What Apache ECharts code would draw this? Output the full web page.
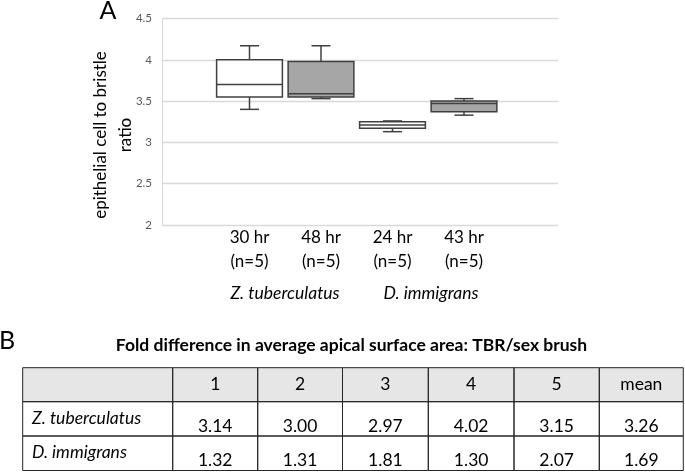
<!DOCTYPE html>
<html><head><meta charset="utf-8">
<script src="https://cdn.jsdelivr.net/npm/echarts@6/dist/echarts.min.js"></script>
<style>html,body{margin:0;padding:0;background:#fff}#c{width:685px;height:472px}</style>
</head><body><div id="c"></div>
<script>
// ---- data ----
const categories = ['30 hr\n(n=5)', '48 hr\n(n=5)', '24 hr\n(n=5)', '43 hr\n(n=5)'];
const boxMin    = [3.40, 3.53, 3.13, 3.33];
const boxQ1     = [3.55, 3.55, 3.17, 3.37];
const boxMedian = [3.70, 3.59, 3.21, 3.47];
const boxQ3     = [4.00, 3.98, 3.25, 3.50];
const boxMax    = [4.17, 4.17, 3.26, 3.53];
const boxFill   = ['#ffffff', '#a6a6a6', '#ffffff', '#a6a6a6'];
const speciesGroups = ['Z. tuberculatus', 'D. immigrans'];
const yTicks = { min: 2, max: 4.5, interval: 0.5 };

const tableTitle = 'Fold difference in average apical surface area: TBR/sex brush';
const tableHeader = ['', '1', '2', '3', '4', '5', 'mean'];
const tableRowLabels = ['Z. tuberculatus', 'D. immigrans'];
const rowZ = ['3.14', '3.00', '2.97', '4.02', '3.15', '3.26'];
const rowD = ['1.32', '1.31', '1.81', '1.30', '2.07', '1.69'];

// ---- build ----
const FONT = 'Lato, "Open Sans", sans-serif';
const boxData = categories.map((c, i) => [i, boxMin[i], boxQ1[i], boxMedian[i], boxQ3[i], boxMax[i]]);

const chart = echarts.init(document.getElementById('c'), null, { renderer: 'canvas' });

// table graphics
const colX = [22.7, 172.7, 257.7, 342.5, 428.3, 514, 599.3, 683.3];
const rowY = [367.7, 401.7, 436, 470.5];
const tableGraphics = [];
tableGraphics.push({ type: 'rect', shape: { x: colX[0], y: rowY[0], width: colX[7] - colX[0], height: rowY[1] - rowY[0] }, style: { fill: '#e7e6e6', stroke: null } });
for (let r = 0; r < 3; r++) {
  for (let c = 0; c < 7; c++) {
    tableGraphics.push({ type: 'rect', shape: { x: colX[c], y: rowY[r], width: colX[c + 1] - colX[c], height: rowY[r + 1] - rowY[r] }, style: { fill: null, stroke: '#262626', lineWidth: 1 } });
  }
}
tableHeader.forEach((t, c) => {
  if (!t) return;
  tableGraphics.push({ type: 'text', x: (colX[c] + colX[c + 1]) / 2, y: 384, style: { text: t, font: '17.5px ' + FONT, fill: '#000', align: 'center', verticalAlign: 'middle' } });
});
[rowZ, rowD].forEach((row, r) => {
  const top = rowY[r + 1];
  tableGraphics.push({ type: 'text', x: 32, y: top + 16.5, style: { text: tableRowLabels[r], font: 'italic 17.5px ' + FONT, fill: '#000', align: 'left', verticalAlign: 'middle' } });
  row.forEach((v, c) => {
    tableGraphics.push({ type: 'text', x: (colX[c + 1] + colX[c + 2]) / 2, y: top + 24.5, style: { text: v, font: '17.5px ' + FONT, fill: '#000', align: 'center', verticalAlign: 'middle' } });
  });
});

chart.setOption({
  animation: false,
  backgroundColor: '#fff',
  grid: [
    { left: 162, right: 127, top: 18.5, bottom: 247, containLabel: false },
    { left: 213.75, width: 286, top: 18.5, bottom: 247, containLabel: false }
  ],
  xAxis: [
    { gridIndex: 0, type: 'value', min: 0, max: 1, show: false },
    { gridIndex: 1, type: 'category', data: categories,
      axisLine: { show: false }, axisTick: { show: false }, splitLine: { show: false },
      axisLabel: { color: '#000', fontSize: 17, fontFamily: FONT, lineHeight: 24, margin: 1 } }
  ],
  yAxis: [
    { gridIndex: 0, type: 'value', min: yTicks.min, max: yTicks.max, interval: yTicks.interval,
      axisLine: { show: true, lineStyle: { color: '#d9d9d9', width: 1 } }, axisTick: { show: false },
      splitLine: { lineStyle: { color: '#d9d9d9', width: 1.3 } },
      axisLabel: { color: '#595959', fontSize: 11.5, fontFamily: FONT, margin: 10 } },
    { gridIndex: 1, type: 'value', min: yTicks.min, max: yTicks.max, show: false }
  ],
  series: [{
    type: 'custom', xAxisIndex: 1, yAxisIndex: 1,
    data: boxData,
    encode: { x: 0, y: [1, 2, 3, 4, 5] },
    renderItem: function (params, api) {
      const i = api.value(0);
      const cx = api.coord([i, 0])[0];
      const bw = api.size([1, 0])[0] * 0.92;
      const cap = bw * 0.29;
      const y = k => api.coord([i, api.value(k)])[1];
      const yMin = y(1), yQ1 = y(2), yMed = y(3), yQ3 = y(4), yMax = y(5);
      const st = { stroke: '#404040', lineWidth: 1.5, fill: null };
      return { type: 'group', children: [
        { type: 'line', shape: { x1: cx, y1: yQ3, x2: cx, y2: yMax }, style: st },
        { type: 'line', shape: { x1: cx - cap / 2, y1: yMax, x2: cx + cap / 2, y2: yMax }, style: st },
        { type: 'line', shape: { x1: cx, y1: yQ1, x2: cx, y2: yMin }, style: st },
        { type: 'line', shape: { x1: cx - cap / 2, y1: yMin, x2: cx + cap / 2, y2: yMin }, style: st },
        { type: 'rect', shape: { x: cx - bw / 2, y: yQ3, width: bw, height: yQ1 - yQ3 }, style: { fill: boxFill[i], stroke: '#404040', lineWidth: 1.5 } },
        { type: 'line', shape: { x1: cx - bw / 2, y1: yMed, x2: cx + bw / 2, y2: yMed }, style: st }
      ] };
    }
  }],
  graphic: [
    { type: 'text', x: 108, y: 11, style: { text: 'A', font: '25px ' + FONT, fill: '#000', align: 'center', verticalAlign: 'middle' } },
    { type: 'text', x: 113, y: 135, rotation: Math.PI / 2, style: { text: 'epithelial cell to bristle\nratio', font: '17px ' + FONT, lineHeight: 25, fill: '#000', align: 'center', verticalAlign: 'middle' } },
    { type: 'text', x: 285, y: 293, style: { text: speciesGroups[0], font: 'italic 17.5px ' + FONT, fill: '#000', align: 'center', verticalAlign: 'middle' } },
    { type: 'text', x: 431, y: 293, style: { text: speciesGroups[1], font: 'italic 17.5px ' + FONT, fill: '#000', align: 'center', verticalAlign: 'middle' } },
    { type: 'text', x: 7, y: 341, style: { text: 'B', font: '25px ' + FONT, fill: '#000', align: 'center', verticalAlign: 'middle' } },
    { type: 'text', x: 351.5, y: 345, style: { text: tableTitle, font: 'bold 17.5px ' + FONT, fill: '#000', align: 'center', verticalAlign: 'middle' } }
  ].concat(tableGraphics)
});
</script></body></html>
